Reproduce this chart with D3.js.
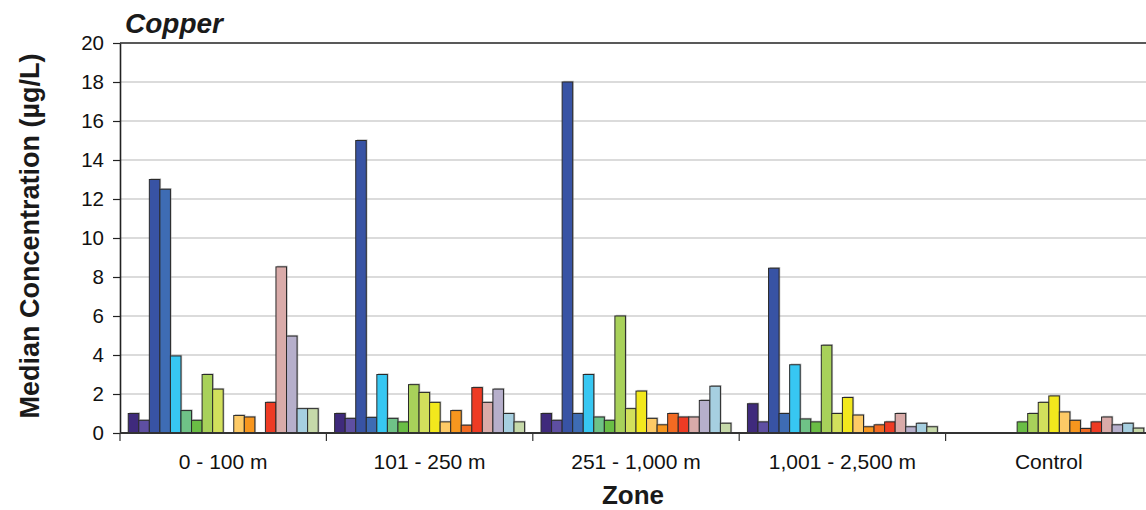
<!DOCTYPE html>
<html>
<head>
<meta charset="utf-8">
<script src="https://cdn.jsdelivr.net/npm/d3@7"></script>
<style>
  html, body { margin: 0; padding: 0; background: #fff; }
  svg { display: block; font-family: "Liberation Sans", Arial, sans-serif; }
</style>
</head>
<body>
<svg id="chart" width="1146" height="510"></svg>
<script>
// Zones along the x axis
const zones = ["0 - 100 m", "101 - 250 m", "251 - 1,000 m", "1,001 - 2,500 m", "Control"];

// Eighteen sampling series per zone (null = no value)
const s01 = [1.0, 1.0, 1.0, 1.5, null];
const s02 = [0.65, 0.75, 0.65, 0.57, null];
const s03 = [13.0, 15.0, 18.0, 8.45, null];
const s04 = [12.5, 0.8, 1.0, 1.0, null];
const s05 = [3.95, 3.0, 3.0, 3.5, null];
const s06 = [1.15, 0.75, 0.82, 0.72, null];
const s07 = [0.65, 0.57, 0.65, 0.57, 0.57];
const s08 = [3.0, 2.48, 6.0, 4.5, 1.0];
const s09 = [2.25, 2.08, 1.25, 1.0, 1.57];
const s10 = [null, 1.57, 2.15, 1.82, 1.9];
const s11 = [0.9, 0.57, 0.75, 0.92, 1.08];
const s12 = [0.82, 1.15, 0.42, 0.32, 0.65];
const s13 = [null, 0.4, 1.0, 0.42, 0.23];
const s14 = [1.57, 2.33, 0.82, 0.57, 0.57];
const s15 = [8.52, 1.57, 0.82, 1.0, 0.82];
const s16 = [4.97, 2.25, 1.67, 0.32, 0.42];
const s17 = [1.25, 1.0, 2.4, 0.5, 0.5];
const s18 = [1.25, 0.57, 0.5, 0.32, 0.25];

const seriesValues = [s01, s02, s03, s04, s05, s06, s07, s08, s09,
                      s10, s11, s12, s13, s14, s15, s16, s17, s18];

const seriesColors = ["#3f2a7c", "#5e4fa2", "#3853a4", "#3e6cb4", "#37c7f2", "#6fc287",
                      "#6abd45", "#a8d15a", "#d2e05c", "#f2e81d", "#fdca66", "#f7961e",
                      "#f26a22", "#ee3b24", "#d9aba9", "#b6afcb", "#a6cfe0", "#c6d9a9"];

const yTicks = [0, 2, 4, 6, 8, 10, 12, 14, 16, 18, 20];

const svg = d3.select("#chart");
const plotL = 120, plotT = 43, plotB = 433, plotR = 1152;

const x0 = d3.scaleBand().domain(zones).range([plotL, plotR]).paddingInner(0).paddingOuter(0);
const x1 = d3.scaleBand().domain(d3.range(seriesValues.length))
  .range([0, x0.bandwidth()]).paddingInner(0).paddingOuter(0.78);
const y = d3.scaleLinear().domain([0, 20]).range([plotB, plotT]);

// Horizontal gridlines
svg.append("g").selectAll("line")
  .data(yTicks.filter(d => d > 0 && d < 20))
  .join("line")
  .attr("x1", plotL).attr("x2", plotR)
  .attr("y1", d => y(d)).attr("y2", d => y(d))
  .attr("stroke", "#cfcfcf").attr("stroke-width", 1.5);

// Top frame line
svg.append("line")
  .attr("x1", plotL).attr("x2", plotR)
  .attr("y1", y(20)).attr("y2", y(20))
  .attr("stroke", "#222").attr("stroke-width", 1.6);

// Flatten into bar records
const bars = [];
zones.forEach((z, zi) => {
  seriesValues.forEach((arr, si) => {
    if (arr[zi] != null) bars.push({ zone: z, si, value: arr[zi] });
  });
});

const barG = svg.append("g");
// soft drop shadow
barG.selectAll("rect.shadow")
  .data(bars).join("rect").attr("class", "shadow")
  .attr("x", d => x0(d.zone) + x1(d.si) + 1.2)
  .attr("y", d => y(d.value) - 1.2)
  .attr("width", x1.bandwidth())
  .attr("height", d => y(0) - y(d.value))
  .attr("fill", "#8a8a8a").attr("opacity", 0.55);

barG.selectAll("rect.bar")
  .data(bars).join("rect").attr("class", "bar")
  .attr("x", d => x0(d.zone) + x1(d.si))
  .attr("y", d => y(d.value))
  .attr("width", x1.bandwidth())
  .attr("height", d => y(0) - y(d.value))
  .attr("fill", d => seriesColors[d.si])
  .attr("stroke", "#2a2a2a").attr("stroke-width", 1);

// Y axis
const yAxis = svg.append("g")
  .attr("transform", `translate(${plotL},0)`)
  .call(d3.axisLeft(y).tickValues(yTicks).tickSize(7).tickPadding(9).tickSizeOuter(0));
yAxis.select(".domain").attr("stroke", "#222").attr("stroke-width", 1.6);
yAxis.selectAll(".tick line").attr("stroke", "#222").attr("stroke-width", 1.2);
yAxis.selectAll(".tick text")
  .attr("font-size", 20.5).attr("fill", "#111")
  .attr("font-family", "Liberation Sans, Arial, sans-serif");

// X axis: baseline, boundary ticks, zone labels
svg.append("line")
  .attr("x1", plotL).attr("x2", plotR)
  .attr("y1", plotB).attr("y2", plotB)
  .attr("stroke", "#333").attr("stroke-width", 1.8);

svg.append("g").selectAll("line")
  .data(zones)
  .join("line")
  .attr("x1", d => x0(d)).attr("x2", d => x0(d))
  .attr("y1", plotB).attr("y2", plotB + 8)
  .attr("stroke", "#333").attr("stroke-width", 1.2);

svg.append("g").selectAll("text")
  .data(zones)
  .join("text")
  .attr("x", d => x0(d) + x0.bandwidth() / 2)
  .attr("y", 469)
  .attr("text-anchor", "middle")
  .attr("font-size", 21).attr("fill", "#111")
  .text(d => d);

// Titles
svg.append("text")
  .attr("x", 125).attr("y", 33)
  .attr("font-size", 28).attr("font-weight", "bold").attr("font-style", "italic")
  .attr("fill", "#1a1a1a")
  .text("Copper");

svg.append("text")
  .attr("x", 633).attr("y", 504)
  .attr("text-anchor", "middle")
  .attr("font-size", 26).attr("font-weight", "bold").attr("fill", "#1a1a1a")
  .text("Zone");

svg.append("text")
  .attr("transform", `translate(39, ${(plotT + plotB) / 2 - 2}) rotate(-90)`)
  .attr("text-anchor", "middle")
  .attr("font-size", 27).attr("font-weight", "bold").attr("fill", "#1a1a1a")
  .text("Median Concentration (µg/L)");
</script>
</body>
</html>
